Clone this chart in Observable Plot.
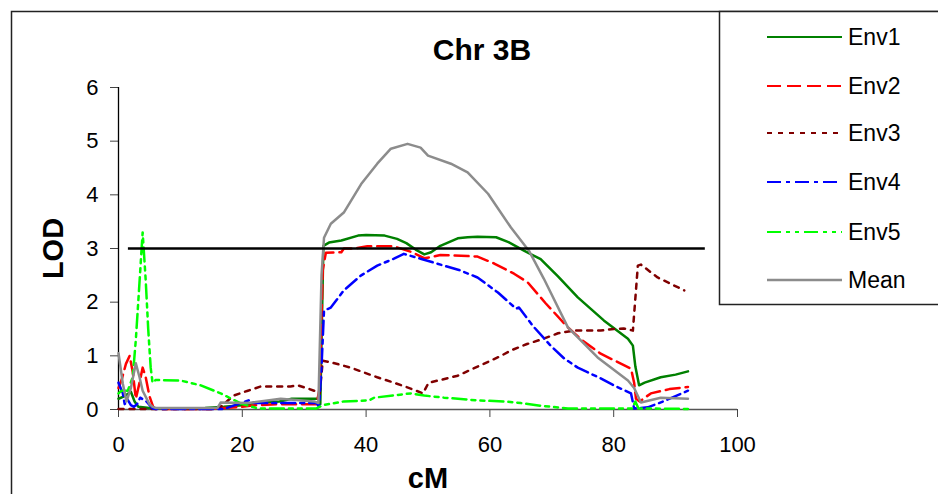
<!DOCTYPE html>
<html>
<head>
<meta charset="utf-8">
<script src="https://cdn.jsdelivr.net/npm/d3@7"></script>
<script src="https://cdn.jsdelivr.net/npm/@observablehq/plot@0.6"></script>
<style>
  html, body { margin: 0; padding: 0; background: white; }
  #chart { width: 938px; height: 494px; overflow: hidden; }
</style>
</head>
<body>
<div id="chart"></div>
<script>
const title = "Chr 3B";
const xLabel = "cM";
const yLabel = "LOD";
const xTicks = [0, 20, 40, 60, 80, 100];
const yTicks = [0, 1, 2, 3, 4, 5, 6];
const threshold = 3;
const thresholdSpan = [1.6, 94.8];
const seriesNames = ["Env1", "Env2", "Env3", "Env4", "Env5", "Mean"];
const seriesColors = ["#008000", "#ff0000", "#800000", "#0000ff", "#00ff00", "#8c8c8c"];
const seriesDash = [null, "14,6", "5,6", "14,5,4,5", "14,5,4,5,4,5", null];

const env1 = [[0,0.2],[1,0.25],[2,0.33],[2.6,0.15],[3.2,0.05],[5,0.03],[8,0.02],[14,0.03],[17,0.05],[20,0.08],[22,0.12],[26,0.15],[28,0.2],[32.3,0.2],[32.6,0.1],[33.1,3.05],[34,3.11],[36,3.15],[38.7,3.24],[40,3.25],[43,3.24],[45,3.18],[46.5,3.1],[48,2.98],[49.4,2.89],[50.5,2.93],[52,3.05],[54.8,3.19],[56.4,3.21],[58,3.22],[61,3.21],[63,3.12],[65.5,2.96],[68.2,2.8],[71,2.48],[74.2,2.09],[78.4,1.66],[82.3,1.32],[83.1,1.19],[83.5,0.8],[84.1,0.45],[85,0.5],[87.6,0.6],[90,0.65],[92,0.71]];
const env2 = [[0,0.4],[0.5,0.55],[1.2,0.85],[1.8,1.0],[2.3,0.7],[2.8,0.2],[3.3,0.45],[3.9,0.78],[4.4,0.6],[5,0.25],[5.6,0.05],[6,0.01],[15,0.01],[17,0.03],[20,0.05],[22,0.08],[26,0.1],[32,0.1],[32.5,0.4],[33,2.6],[33.5,2.92],[36,2.93],[36.4,3.0],[38,3.0],[40.2,3.04],[44.5,3.04],[47.2,2.94],[49.4,2.82],[50.5,2.84],[52,2.88],[56.4,2.86],[58,2.85],[60.7,2.72],[63.9,2.53],[66.1,2.37],[69,1.98],[72.6,1.53],[75,1.28],[77.9,1.04],[80,0.92],[82.8,0.76],[83.3,0.5],[83.6,0.2],[84.2,0.15],[86,0.3],[89,0.38],[92,0.42]];
const env3 = [[0,0.01],[15,0.01],[16.2,0.02],[17.5,0.15],[18.6,0.26],[20.9,0.35],[23,0.43],[27.8,0.43],[29,0.45],[30.6,0.39],[31.6,0.35],[32.5,0.3],[33,0.91],[34.3,0.88],[37.5,0.78],[41.8,0.6],[44.5,0.5],[47.2,0.39],[49.2,0.3],[50.1,0.5],[52,0.55],[54.8,0.63],[59,0.85],[61.8,1.0],[63.4,1.1],[66,1.22],[68.7,1.32],[71,1.42],[73.6,1.47],[77.9,1.47],[80,1.5],[81.6,1.51],[83.1,1.47],[83.9,2.68],[84.4,2.7],[87.1,2.46],[91.4,2.22]];
const env4 = [[0,0.5],[0.7,0.3],[1,0.1],[1.5,0.18],[2,0.08],[2.5,0.05],[3,0.1],[3.5,0.22],[4.5,0.15],[5.5,0.02],[6,0.01],[17,0.01],[19.3,0.1],[21,0.17],[22,0.12],[27,0.12],[32,0.12],[32.4,0.05],[32.8,0.8],[33.2,1.84],[34.3,1.9],[36.4,2.22],[39.2,2.5],[41.8,2.68],[44.5,2.81],[46.1,2.9],[48.8,2.81],[52.6,2.68],[55,2.6],[58,2.46],[61.3,2.18],[64.2,1.88],[64.7,1.9],[67,1.55],[69.8,1.19],[72,0.95],[74.2,0.78],[77.9,0.58],[80,0.45],[82.8,0.3],[83.3,0.02],[85.5,0.04],[88,0.15],[92,0.35]];
const env5 = [[0,0.3],[0.5,0.35],[1.5,0.35],[2.3,0.6],[2.8,1.3],[3.3,2.2],[3.9,3.3],[4.4,2.4],[4.8,1.5],[5.2,0.78],[5.5,0.5],[6,0.55],[10,0.54],[13.3,0.45],[16.5,0.3],[19.8,0.11],[22.5,0.02],[32,0.02],[33,0.08],[36.4,0.15],[40.5,0.17],[41.3,0.22],[47.2,0.3],[49.4,0.26],[52.6,0.22],[58,0.17],[62.3,0.15],[65,0.12],[68.2,0.07],[72.6,0.02],[83,0.02],[83.5,0.15],[84,0.02],[92,0.01]];
const mean = [[0,1.05],[0.7,0.48],[1.3,0.15],[2,0.4],[2.8,0.86],[3.4,0.6],[3.9,0.35],[5,0.1],[5.5,0.05],[6,0.03],[16,0.03],[16.5,0.13],[21,0.12],[26.2,0.2],[31.6,0.15],[32.3,0.12],[32.8,2.5],[33.2,3.2],[34.3,3.46],[36.4,3.67],[39.2,4.2],[41.8,4.58],[44,4.86],[46.7,4.95],[48.8,4.88],[50,4.73],[53.7,4.58],[56.4,4.42],[59.7,4.02],[63.4,3.39],[66.3,2.96],[68.7,2.44],[72.6,1.53],[77.4,0.97],[82.3,0.54],[83.3,0.4],[84.4,0.13],[87.6,0.22],[92,0.2]];

const seriesData = [env1, env2, env3, env4, env5, mean];
const font = "Liberation Sans, Arial, Helvetica, sans-serif";

const lineMarks = seriesData.map((data, i) =>
  Plot.line(data, {
    x: d => d[0], y: d => d[1],
    stroke: seriesColors[i],
    strokeWidth: i === 5 ? 2.5 : 2.5,
    strokeDasharray: seriesDash[i],
    strokeLinejoin: "round"
  })
);

const chart = Plot.plot({
  width: 938, height: 494,
  marginLeft: 118, marginRight: 201, marginTop: 87, marginBottom: 85,
  style: { fontFamily: font, fontSize: "22px", color: "black", background: "white", overflow: "visible" },
  x: { domain: [0, 100] },
  y: { domain: [0, 6] },
  marks: [
    Plot.axisY({ ticks: yTicks, tickFormat: d3.format("d"), tickSize: 8, tickPadding: 12, label: null, fontSize: 22, stroke: "#444" }),
    Plot.axisX({ ticks: xTicks, tickFormat: d3.format("d"), tickSize: 8, tickPadding: 19, label: null, fontSize: 22, stroke: "#444" }),
    Plot.ruleX([0], { stroke: "black", strokeWidth: 1.3 }),
    Plot.ruleY([0], { stroke: "#555", strokeWidth: 1.3 }),
    ...lineMarks,
    Plot.ruleY([threshold], { x1: thresholdSpan[0], x2: thresholdSpan[1], stroke: "black", strokeWidth: 2.5 }),
    Plot.text([title], { frameAnchor: "top", lineAnchor: "middle", dx: 54, dy: -37, fontSize: 30, fontWeight: "bold", fill: "black" }),
    Plot.text([yLabel], { frameAnchor: "left", textAnchor: "middle", lineAnchor: "middle", dx: -65, rotate: -90, fontSize: 29, fontWeight: "bold", fill: "black" }),
    Plot.text([xLabel], { frameAnchor: "bottom", lineAnchor: "middle", dy: 69, fontSize: 29, fontWeight: "bold", fill: "black" })
  ]
});

document.getElementById("chart").appendChild(chart);

// Borders and legend
const svg = d3.select(chart);
svg.insert("rect", ":first-child")
  .attr("x", 11.5).attr("y", 11.5).attr("width", 1000).attr("height", 600)
  .attr("fill", "none").attr("stroke", "#222").attr("stroke-width", 1.5);

const lg = svg.append("g");
lg.append("rect").attr("x", 719.5).attr("y", 11.5).attr("width", 240).attr("height", 293)
  .attr("fill", "white").attr("stroke", "#222").attr("stroke-width", 1.5);
const rowY = [37, 86, 133, 182, 232, 280];
seriesNames.forEach((name, i) => {
  lg.append("line").attr("x1", 767).attr("x2", 842).attr("y1", rowY[i]).attr("y2", rowY[i])
    .attr("stroke", seriesColors[i]).attr("stroke-width", i === 5 ? 2.5 : 2)
    .attr("stroke-dasharray", seriesDash[i]);
  lg.append("text").attr("x", 848).attr("y", rowY[i]).attr("dy", "0.35em")
    .attr("text-anchor", "start")
    .attr("font-family", font).attr("font-size", 23).attr("fill", "black").text(name);
});
</script>
</body>
</html>
